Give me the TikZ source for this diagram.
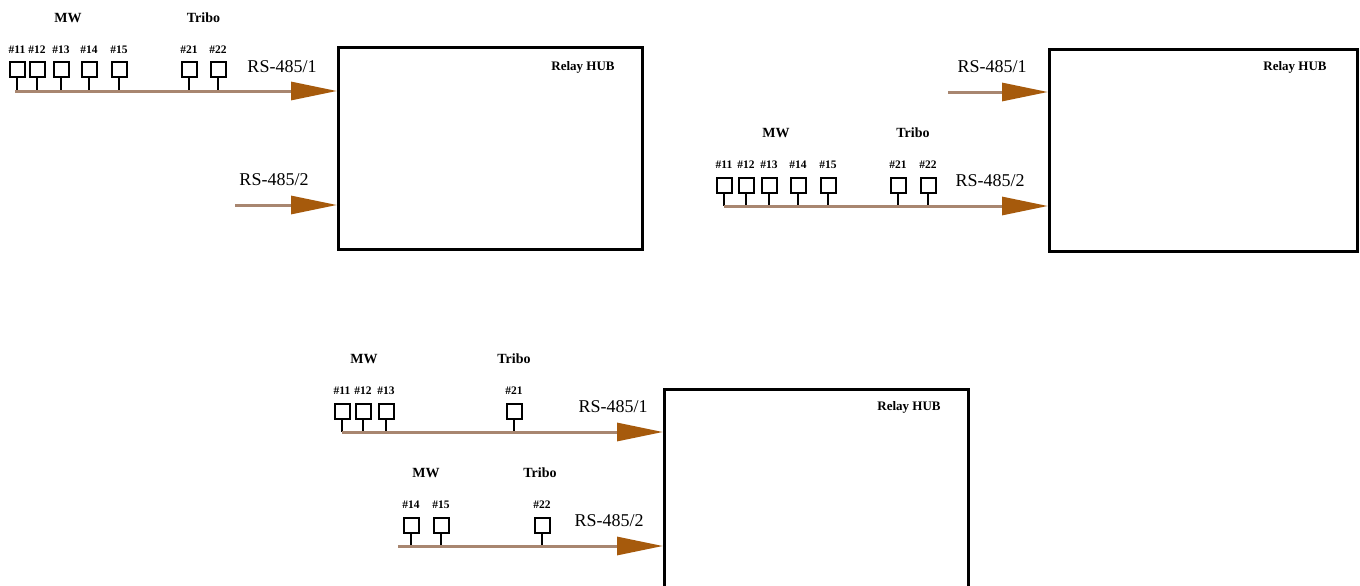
\documentclass[tikz,border=0pt]{standalone}
\usepackage{fontspec}
\setmainfont{Liberation Serif}
\usetikzlibrary{arrows.meta,calc}
\definecolor{busline}{HTML}{A88670}
\definecolor{tipbrown}{HTML}{A65A0C}
\tikzset{
  hub/.style = {draw, line width=3pt, minimum width=304pt, minimum height=202pt, anchor=north west, inner sep=0pt},
  hubname/.style = {font=\fontsize{13}{15}\selectfont\bfseries},
  dev/.style = {draw, line width=2pt, minimum size=15pt, inner sep=0pt,
    label={[devlabel, label distance=4pt]above:\##1}},
  devlabel/.style = {font=\fontsize{11.5}{13}\selectfont\bfseries},
  group/.style = {font=\fontsize{14}{16}\selectfont\bfseries},
  rs/.style = {font=\fontsize{18}{20}\selectfont},
  bus/.style = {draw=busline, line width=3pt,
    -{Triangle[length=46pt, width=18pt, color=tipbrown, fill=tipbrown]}},
  stem/.style = {line width=2pt},
}
\begin{document}
\begin{tikzpicture}[x=1pt, y=-1pt]
  \useasboundingbox (0,0) rectangle (1360,586);

  % first layout: all devices on RS-485/1
  \node[hub] (hubA) at (337,46) {};
  \node[hubname] at ($(hubA.north east)+(-61,21)$) {Relay HUB};
  \coordinate (a) at (15,91);
  \node foreach \x/\k in {17/11,37/12,61/13,89/14,119/15,189/21,218/22} [dev=\k] (a\k) at (\x,70) {};
  \foreach \k in {11,12,13,14,15,21,22}
    \draw[stem] (a\k.south) -- (a\k.south |- a);
  \draw[bus] (a) -- (a -| hubA.west);
  \node[group] at ($(a11)!0.5!(a15)+(0,-52)$) {MW};
  \node[group] at ($(a21)!0.5!(a22)+(0,-52)$) {Tribo};
  \node[rs] at ($(a -| hubA.west)+(-55,-24)$) {RS-485/1};
  \coordinate (a2) at (235,205);
  \draw[bus] (a2) -- (a2 -| hubA.west);
  \node[rs] at ($(a2 -| hubA.west)+(-63,-25)$) {RS-485/2};

  % second layout: all devices on RS-485/2
  \node[hub, minimum width=308pt] (hubB) at (1048,48) {};
  \node[hubname] at ($(hubB.north east)+(-64,19)$) {Relay HUB};
  \coordinate (b1) at (948,92);
  \draw[bus] (b1) -- (b1 -| hubB.west);
  \node[rs] at ($(b1 -| hubB.west)+(-56,-25)$) {RS-485/1};
  \coordinate (b) at (724,206);
  \node foreach \x/\k in {724/11,746/12,769/13,798/14,828/15,898/21,928/22} [dev=\k] (b\k) at (\x,185) {};
  \foreach \k in {11,12,13,14,15,21,22}
    \draw[stem] (b\k.south) -- (b\k.south |- b);
  \draw[bus] (b) -- (b -| hubB.west);
  \node[group] at ($(b11)!0.5!(b15)+(0,-52)$) {MW};
  \node[group] at ($(b21)!0.5!(b22)+(0,-52)$) {Tribo};
  \node[rs] at ($(b -| hubB.west)+(-58,-25)$) {RS-485/2};

  % third layout: devices split over both lines
  \node[hub, minimum height=222pt] (hubC) at (663,388) {};
  \node[hubname] at ($(hubC.north east)+(-61,19)$) {Relay HUB};
  \coordinate (c) at (342,432);
  \node foreach \x/\k in {342/11,363/12,386/13,514/21} [dev=\k] (c\k) at (\x,411) {};
  \foreach \k in {11,12,13,21}
    \draw[stem] (c\k.south) -- (c\k.south |- c);
  \draw[bus] (c) -- (c -| hubC.west);
  \node[group] at ($(c11)!0.5!(c13)+(0,-52)$) {MW};
  \node[group] at ($(c21)+(0,-52)$) {Tribo};
  \node[rs] at ($(c -| hubC.west)+(-50,-25)$) {RS-485/1};
  \coordinate (d) at (398,546);
  \node foreach \x/\k in {411/14,441/15,542/22} [dev=\k] (d\k) at (\x,525) {};
  \foreach \k in {14,15,22}
    \draw[stem] (d\k.south) -- (d\k.south |- d);
  \draw[bus] (d) -- (d -| hubC.west);
  \node[group] at ($(d14)!0.5!(d15)+(0,-52)$) {MW};
  \node[group] at ($(d22)+(-2,-52)$) {Tribo};
  \node[rs] at ($(d -| hubC.west)+(-54,-25)$) {RS-485/2};
\end{tikzpicture}
\end{document}
